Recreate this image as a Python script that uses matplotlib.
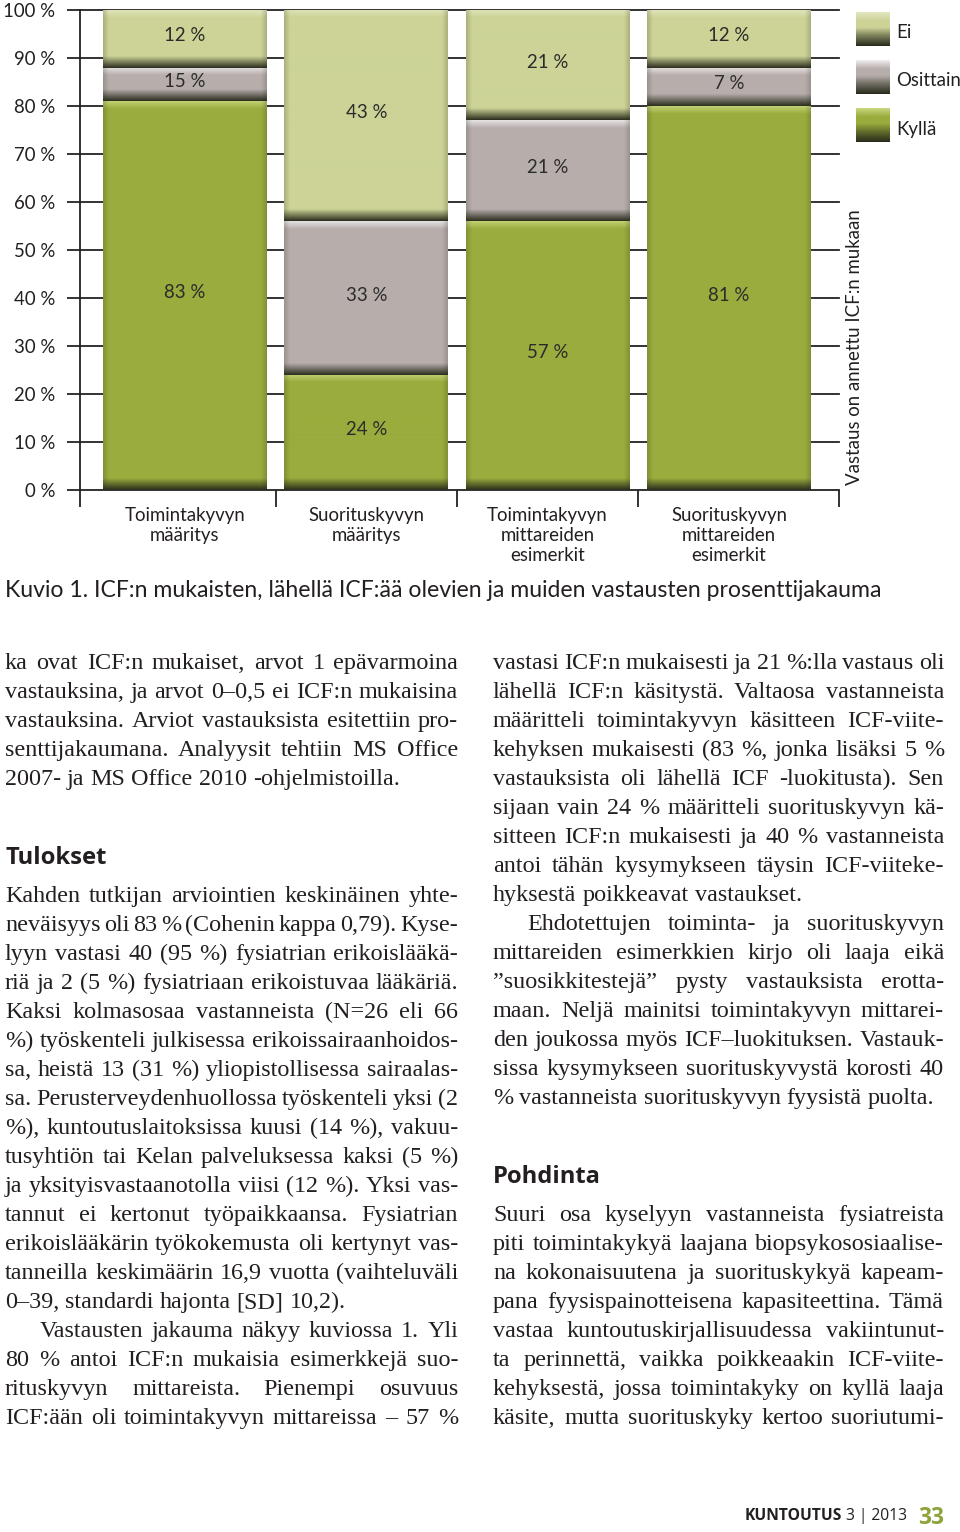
import numpy as np
import matplotlib
matplotlib.use("Agg")
import matplotlib.pyplot as plt
from matplotlib.colors import to_rgb, to_hex

# ---------------- data ----------------
categories = ["Toimintakyvyn\nmääritys", "Suorituskyvyn\nmääritys",
              "Toimintakyvyn\nmittareiden\nesimerkit", "Suorituskyvyn\nmittareiden\nesimerkit"]
series_names = ["Kyllä", "Osittain", "Ei"]
kylla = [81, 24, 56, 80]
osittain = [7, 32, 21, 8]
ei = [12, 44, 23, 12]
label_kylla = ["83 %", "24 %", "57 %", "81 %"]
label_osittain = ["15 %", "33 %", "21 %", "7 %"]
label_ei = ["12 %", "43 %", "21 %", "12 %"]
yticks = [0, 10, 20, 30, 40, 50, 60, 70, 80, 90, 100]
ytick_labels = ["0 %", "10 %", "20 %", "30 %", "40 %", "50 %", "60 %", "70 %", "80 %", "90 %", "100 %"]
side_title = "Vastaus on annettu ICF:n mukaan"
caption = "Kuvio 1. ICF:n mukaisten, lähellä ICF:ää olevien ja muiden vastausten prosenttijakauma"

left_a = ["ka ovat ICF:n mukaiset, arvot 1 epävarmoina",
          "vastauksina, ja arvot 0–0,5 ei ICF:n mukaisina",
          "vastauksina. Arviot vastauksista esitettiin pro-",
          "senttijakaumana. Analyysit tehtiin MS Office",
          "2007- ja MS Office 2010 -ohjelmistoilla."]
left_head = "Tulokset"
left_b = ["Kahden tutkijan arviointien keskinäinen yhte-",
          "neväisyys oli 83 % (Cohenin kappa 0,79). Kyse-",
          "lyyn vastasi 40 (95 %) fysiatrian erikoislääkä-",
          "riä ja 2 (5 %) fysiatriaan erikoistuvaa lääkäriä.",
          "Kaksi kolmasosaa vastanneista (N=26 eli 66",
          "%) työskenteli julkisessa erikoissairaanhoidos-",
          "sa, heistä 13 (31 %) yliopistollisessa sairaalas-",
          "sa. Perusterveydenhuollossa työskenteli yksi (2",
          "%), kuntoutuslaitoksissa kuusi (14 %), vakuu-",
          "tusyhtiön tai Kelan palveluksessa kaksi (5 %)",
          "ja yksityisvastaanotolla viisi (12 %). Yksi vas-",
          "tannut ei kertonut työpaikkaansa. Fysiatrian",
          "erikoislääkärin työkokemusta oli kertynyt vas-",
          "tanneilla keskimäärin 16,9 vuotta (vaihteluväli",
          "0–39, standardi hajonta [SD] 10,2)."]
left_c = ["Vastausten jakauma näkyy kuviossa 1. Yli",
          "80 % antoi ICF:n mukaisia esimerkkejä suo-",
          "rituskyvyn mittareista. Pienempi osuvuus",
          "ICF:ään oli toimintakyvyn mittareissa – 57 %"]
right_a = ["vastasi ICF:n mukaisesti ja 21 %:lla vastaus oli",
           "lähellä ICF:n käsitystä. Valtaosa vastanneista",
           "määritteli toimintakyvyn käsitteen ICF-viite-",
           "kehyksen mukaisesti (83 %, jonka lisäksi 5 %",
           "vastauksista oli lähellä ICF -luokitusta). Sen",
           "sijaan vain 24 % määritteli suorituskyvyn kä-",
           "sitteen ICF:n mukaisesti ja 40 % vastanneista",
           "antoi tähän kysymykseen täysin ICF-viiteke-",
           "hyksestä poikkeavat vastaukset."]
right_b = ["Ehdotettujen toiminta- ja suorituskyvyn",
           "mittareiden esimerkkien kirjo oli laaja eikä",
           "”suosikkitestejä” pysty vastauksista erotta-",
           "maan. Neljä mainitsi toimintakyvyn mittarei-",
           "den joukossa myös ICF–luokituksen. Vastauk-",
           "sissa kysymykseen suorituskyvystä korosti 40",
           "% vastanneista suorituskyvyn fyysistä puolta."]
right_head = "Pohdinta"
right_c = ["Suuri osa kyselyyn vastanneista fysiatreista",
           "piti toimintakykyä laajana biopsykososiaalise-",
           "na kokonaisuutena ja suorituskykyä kapeam-",
           "pana fyysispainotteisena kapasiteettina. Tämä",
           "vastaa kuntoutuskirjallisuudessa vakiintunut-",
           "ta perinnettä, vaikka poikkeaakin ICF-viite-",
           "kehyksestä, jossa toimintakyky on kyllä laaja",
           "käsite, mutta suorituskyky kertoo suoriutumi-"]
footer_mag = "KUNTOUTUS"
footer_issue = " 3 | 2013"
footer_page = "33"

# ---------------- styles ----------------
W, H = 960, 1532
SANS = ["Lato", "DejaVu Sans"]
HEAD = ["Open Sans", "DejaVu Sans"]
SERIF = ["Liberation Serif", "DejaVu Serif"]
TXT = "#231f20"
C_KYLLA = "#9aac3d"
C_OSIT = "#b7aeac"
C_EI = "#cdd397"
HI = {"#9aac3d": "#c9d87f", "#b7aeac": "#efeded", "#cdd397": "#e3e6bf"}
DARK = "#2a2c1c"

fig = plt.figure(figsize=(W / 100, H / 100), dpi=100)
fig.patch.set_facecolor("white")
renderer = fig.canvas.get_renderer()


def px2fig(x, y):
    return x / W, 1 - y / H


def text_width(s, **kw):
    t = fig.text(0, 0, s, **kw)
    w = t.get_window_extent(renderer).width
    t.remove()
    return w


def fit_size(s, target, ref=20, **kw):
    return ref * target / text_width(s, fontsize=ref, **kw)


# chart font size: fit a category word to its measured width
CS = fit_size("Toimintakyvyn", 121, family=SANS)

# ---------------- chart ----------------
ax = fig.add_axes([80 / W, 1 - 490 / H, 759 / W, 480 / H])
XL = (-0.579, 3.607)
BW = 0.904
x = np.arange(len(categories))


def grad_image(base, h_px, w_px=164, band=12.0, hl=8.0):
    base = np.array(to_rgb(base))
    hi = np.array(to_rgb(HI[to_hex(base)]))
    dark = np.array(to_rgb(DARK))
    rows = max(int(round(h_px)), 2)
    cols = int(w_px)
    d = np.arange(rows) + 0.5
    u = rows - d
    fb = np.clip(1 - d / band, 0, 1) ** 1.0
    fh = np.clip(1 - u / hl, 0, 1) * 0.85
    col = base[None, :] * (1 - fb[:, None]) + dark[None, :] * fb[:, None]
    col = col * (1 - fh[:, None]) + hi[None, :] * fh[:, None]
    c = np.arange(cols) + 0.5
    e = np.minimum(c, cols - c)
    fe = np.clip(1 - e / 6.0, 0, 1) * 0.22
    img = col[:, None, :] * (1 - fe[None, :, None]) + dark[None, None, :] * fe[None, :, None]
    return img


PX_PER_UNIT = 4.8
bottoms = np.zeros(len(categories))
for vals, color, labels, name in [(kylla, C_KYLLA, label_kylla, "Kyllä"),
                                  (osittain, C_OSIT, label_osittain, "Osittain"),
                                  (ei, C_EI, label_ei, "Ei")]:
    vals = np.array(vals, dtype=float)
    ax.bar(x, vals, BW, bottom=bottoms, color=color, zorder=2, label=name, linewidth=0)
    for i in range(len(x)):
        img = grad_image(color, vals[i] * PX_PER_UNIT)
        ax.imshow(img, extent=(x[i] - BW / 2, x[i] + BW / 2, bottoms[i], bottoms[i] + vals[i]),
                  origin="lower", aspect="auto", interpolation="bilinear", zorder=3)
        ax.text(x[i], bottoms[i] + vals[i] / 2 + 0.6, labels[i], ha="center", va="center",
                fontsize=CS, family=SANS, color="#2b2b2b", zorder=5)
    bottoms = bottoms + vals

ax.set_xlim(*XL)
ax.set_ylim(0, 100)
ax.set_aspect("auto")
for s in ["top", "right", "bottom"]:
    ax.spines[s].set_visible(False)
ax.spines["left"].set_color("#222222")
ax.spines["left"].set_linewidth(1.3)
ax.set_yticks(yticks)
ax.set_yticklabels(ytick_labels, family=SANS, fontsize=CS, color=TXT)
ax.tick_params(axis="y", length=9.4, width=1.3, color="#222222", pad=8.5)
ax.yaxis.grid(True, color="#222222", linewidth=1.3)
for gl in ax.yaxis.get_gridlines():
    gl.set_clip_on(False)
ax.set_axisbelow(True)
ax.set_xticks(x)
ax.set_xticklabels(categories, family=SANS, fontsize=CS, color=TXT, linespacing=1.22)
ax.tick_params(axis="x", which="major", length=0, pad=12)
ax.set_xticks([XL[0], 0.5, 1.5, 2.5, XL[1]], minor=True)
ax.tick_params(axis="x", which="minor", length=12.5, width=1.3, color="#222222", direction="out")
ax.set_facecolor("none")

# side title
fx, fy = px2fig(855, 347)
fig.text(fx, fy, side_title, rotation=90, ha="center", va="center", family=SANS,
         fontsize=CS, color=TXT)


# legend swatches
def swatch(color, y_top):
    base = np.array(to_rgb(color))
    hi = np.array(to_rgb(HI[to_hex(base)]))
    dark = np.array(to_rgb(DARK))
    n = 60
    t = np.linspace(0, 1, n)
    stops_t = [0.0, 0.3, 0.55, 0.75, 1.0]
    stops_c = [dark, dark * 0.5 + base * 0.5, base, base, hi]
    col = np.array([[np.interp(tt, stops_t, [c[k] for c in stops_c]) for k in range(3)] for tt in t])
    img = np.repeat(col[:, None, :], 4, axis=1)
    sax = fig.add_axes([856 / W, 1 - (y_top + 34) / H, 34 / W, 34 / H])
    sax.imshow(img, origin="lower", aspect="auto", extent=(0, 1, 0, 1), interpolation="bilinear")
    sax.axis("off")


for color, name, ytop in [(C_EI, "Ei", 12), (C_OSIT, "Osittain", 60), (C_KYLLA, "Kyllä", 108)]:
    swatch(color, ytop)
    lx, ly = px2fig(896, ytop + 21)
    fig.text(lx, ly, name, ha="left", va="center", family=SANS, fontsize=CS, color=TXT)

# caption
cap_size = fit_size(caption, 878, family=SANS)
cx, cy = px2fig(5, 597)
fig.text(cx, cy, caption, ha="left", va="baseline", family=SANS, fontsize=cap_size, color=TXT)

# ---------------- body text ----------------
BS = fit_size("2007- ja MS Office 2010 -ohjelmistoilla.", 394, family=SERIF)
LH = 29.0
space_w = text_width("x x", family=SERIF, fontsize=BS) - text_width("xx", family=SERIF, fontsize=BS)


def draw_line(line, x0, x1, yb, justify, indent):
    words = line.split(" ")
    ts, ws = [], []
    for w in words:
        t = fig.text(0, 0, w, family=SERIF, fontsize=BS, color=TXT, ha="left", va="baseline")
        ts.append(t)
        ws.append(t.get_window_extent(renderer).width)
    if justify and len(words) > 1:
        gap = (x1 - x0 - indent - sum(ws)) / (len(words) - 1)
    else:
        gap = space_w
    xx = x0 + indent
    for t, w in zip(ts, ws):
        t.set_position(px2fig(xx, yb))
        xx += w + gap


def draw_block(lines, x0, x1, y0, indent=0, last_justified=False):
    for i, line in enumerate(lines):
        just = (i < len(lines) - 1) or last_justified
        draw_line(line, x0, x1, y0 + i * LH, just, indent if i == 0 else 0)


LX0, LX1 = 5, 458
RX0, RX1 = 493, 944
draw_block(left_a, LX0, LX1, 669)
HS = fit_size(left_head, 101, family=HEAD, fontweight="bold")
fig.text(*px2fig(LX0, 864), left_head, family=HEAD, fontweight="bold", fontsize=HS, color=TXT,
         ha="left", va="baseline")
draw_block(left_b, LX0, LX1, 902)
draw_block(left_c, LX0, LX1, 902 + len(left_b) * LH, indent=35, last_justified=True)

draw_block(right_a, RX0, RX1, 669)
draw_block(right_b, RX0, RX1, 669 + len(right_a) * LH, indent=34)
fig.text(*px2fig(RX0, 1183), right_head, family=HEAD, fontweight="bold", fontsize=HS, color=TXT,
         ha="left", va="baseline")
draw_block(right_c, RX0, RX1, 1221, last_justified=True)

# footer
FS = fit_size(footer_mag, 97, family=HEAD, fontweight="bold")
t1 = fig.text(*px2fig(745, 1520), footer_mag, family=HEAD, fontweight="bold", fontsize=FS,
              color=TXT, ha="left", va="baseline")
w1 = t1.get_window_extent(renderer).width
fig.text(*px2fig(745 + w1, 1520), footer_issue, family=HEAD, fontsize=FS, color=TXT,
         ha="left", va="baseline")
PS = fit_size(footer_page, 26, family=HEAD, fontweight="bold")
fig.text(*px2fig(918, 1524), footer_page, family=HEAD, fontweight="bold", fontsize=PS,
         color="#8da43a", ha="left", va="baseline")

fig.savefig("out.png", dpi=100, facecolor="white")
